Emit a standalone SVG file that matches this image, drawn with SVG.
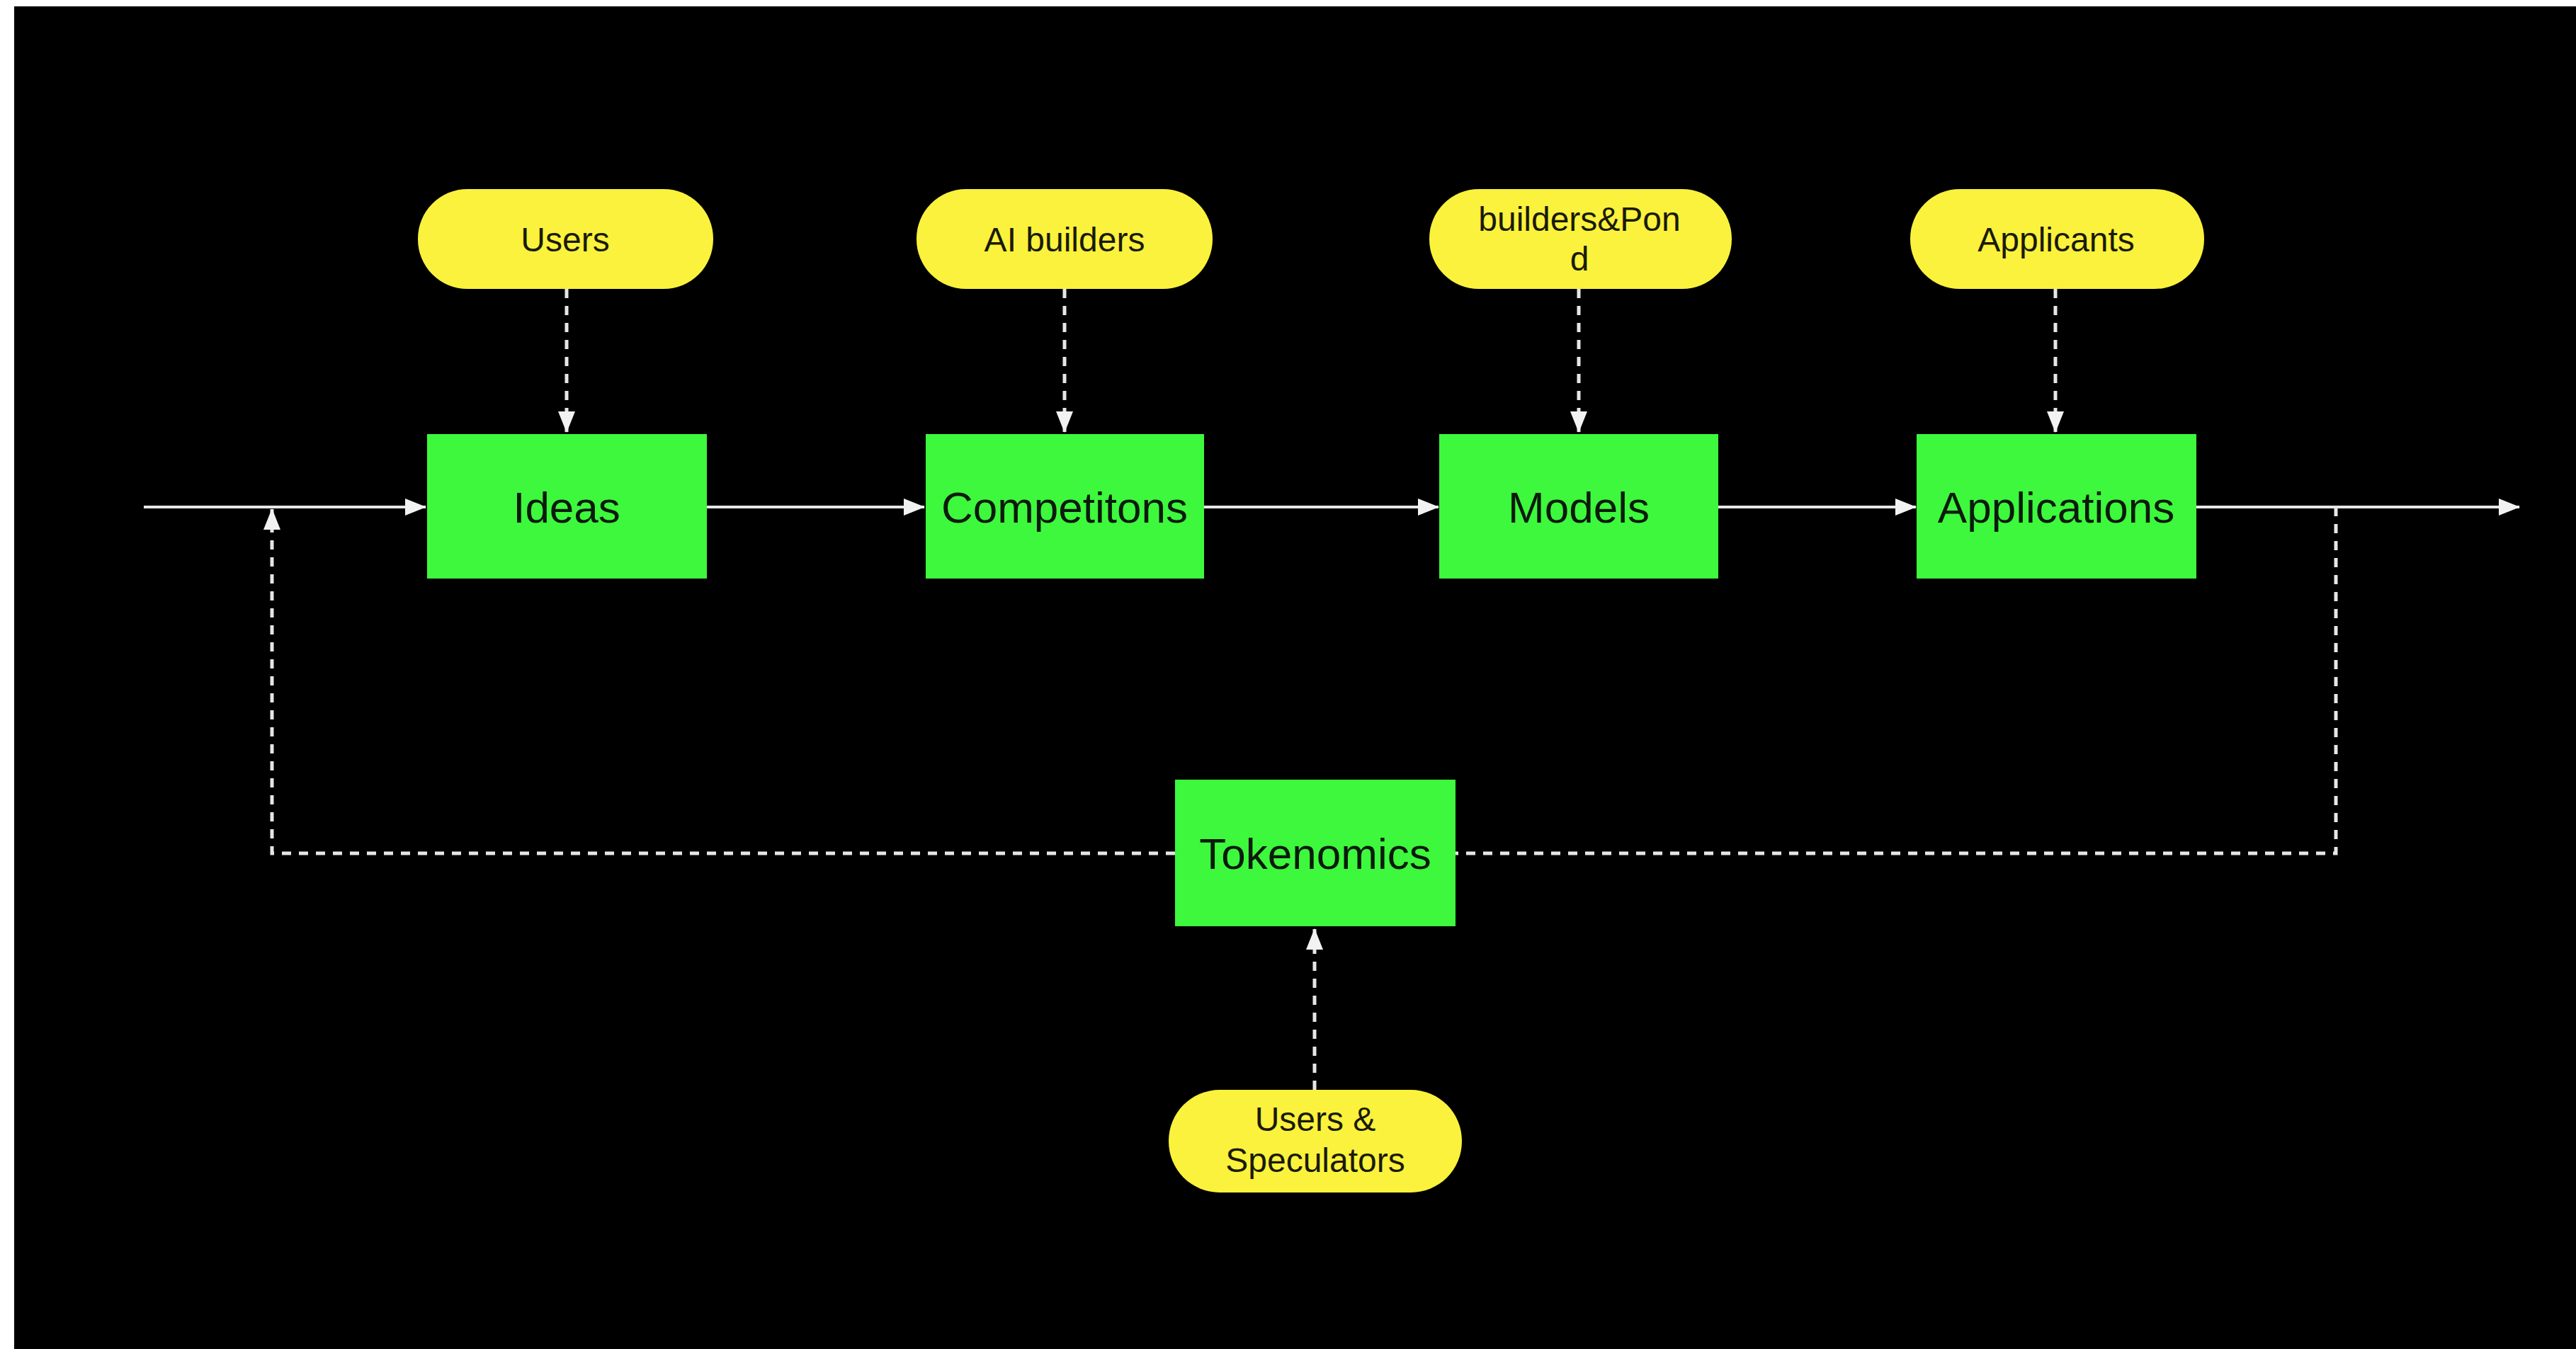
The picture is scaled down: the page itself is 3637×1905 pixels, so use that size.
<svg xmlns="http://www.w3.org/2000/svg" width="3637" height="1905" viewBox="0 0 3637 1905">
<style>
.box{fill:#3df83d;}
.pill{fill:#faf23c;}
.bt{font-family:"Liberation Sans",Arial,sans-serif;font-size:62px;fill:#0c1a0c;text-anchor:middle;}
.pt{font-family:"Liberation Sans",Arial,sans-serif;font-size:48px;fill:#1a1a08;text-anchor:middle;}
.solid{fill:none;stroke:#e6e6e6;stroke-width:4;}
.dash{fill:none;stroke:#e6e6e6;stroke-width:5;stroke-dasharray:13 11;}
</style>
<defs>
<marker id="arr" markerUnits="userSpaceOnUse" markerWidth="30" markerHeight="24" refX="29" refY="12" orient="auto" viewBox="0 0 30 24">
<path d="M0,0 L30,12 L0,24 Z" fill="#f2f2f2"/>
</marker>
</defs>
<rect x="0" y="0" width="3637" height="1905" fill="#ffffff"/>
<rect x="20" y="9" width="3617" height="1896" fill="#000000"/>

<g id="connectors">
<path class="solid" d="M203,716 H601" marker-end="url(#arr)"/>
<path class="solid" d="M998,716 H1305" marker-end="url(#arr)"/>
<path class="solid" d="M1700,716 H2031" marker-end="url(#arr)"/>
<path class="solid" d="M2426,716 H2705" marker-end="url(#arr)"/>
<path class="solid" d="M3100,716 H3557" marker-end="url(#arr)"/>
<path class="dash" d="M800,408 V610" marker-end="url(#arr)"/>
<path class="dash" d="M1503,408 V610" marker-end="url(#arr)"/>
<path class="dash" d="M2229,408 V610" marker-end="url(#arr)"/>
<path class="dash" d="M2902,408 V610" marker-end="url(#arr)"/>
<path class="dash" d="M3298,716 V1205 H2055"/>
<path class="dash" d="M1659,1205 H384 V719" marker-end="url(#arr)"/>
<path class="dash" d="M1856,1539 V1312" marker-end="url(#arr)"/>
</g>

<g id="node-users">
<rect class="pill" x="590" y="267" width="417" height="141" rx="70" ry="70"/>
<text class="pt" x="798" y="355">Users</text>
</g>
<g id="node-aibuilders">
<rect class="pill" x="1294" y="267" width="418" height="141" rx="70" ry="70"/>
<text class="pt" x="1503" y="355">AI builders</text>
</g>
<g id="node-builderspond">
<rect class="pill" x="2018" y="267" width="427" height="141" rx="70" ry="70"/>
<text class="pt" x="2230" y="326">builders&amp;Pon</text>
<text class="pt" x="2230" y="382">d</text>
</g>
<g id="node-applicants">
<rect class="pill" x="2697" y="267" width="415" height="141" rx="70" ry="70"/>
<text class="pt" x="2903" y="355">Applicants</text>
</g>

<g id="node-ideas">
<rect class="box" x="603" y="613" width="395" height="204"/>
<text class="bt" x="800" y="738">Ideas</text>
</g>
<g id="node-competitons">
<rect class="box" x="1307" y="613" width="393" height="204"/>
<text class="bt" x="1503" y="738">Competitons</text>
</g>
<g id="node-models">
<rect class="box" x="2032" y="613" width="394" height="204"/>
<text class="bt" x="2229" y="738">Models</text>
</g>
<g id="node-applications">
<rect class="box" x="2706" y="613" width="395" height="204"/>
<text class="bt" x="2903" y="738">Applications</text>
</g>
<g id="node-tokenomics">
<rect class="box" x="1659" y="1101" width="396" height="207"/>
<text class="bt" x="1857" y="1227">Tokenomics</text>
</g>
<g id="node-speculators">
<rect class="pill" x="1650" y="1539" width="414" height="145" rx="72" ry="72"/>
<text class="pt" x="1857" y="1597">Users &amp;</text>
<text class="pt" x="1857" y="1655">Speculators</text>
</g>
</svg>
